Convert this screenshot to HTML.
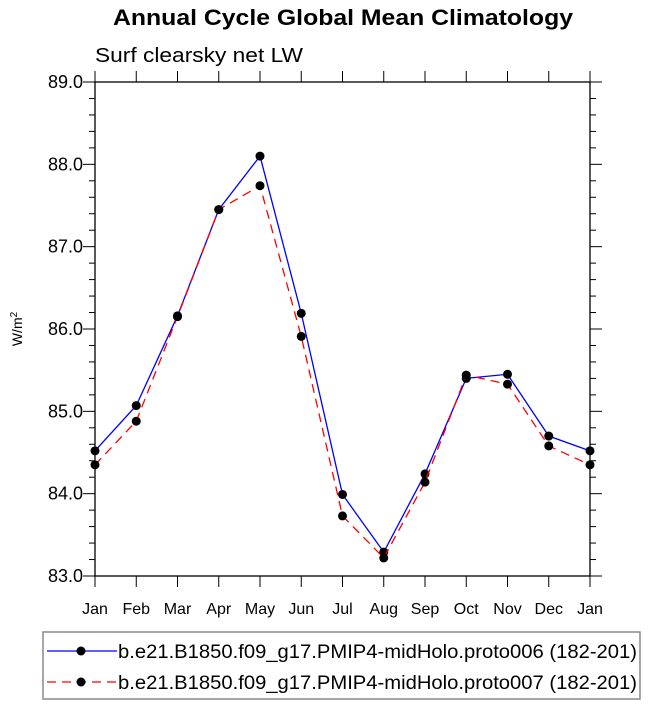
<!DOCTYPE html>
<html><head><meta charset="utf-8"><style>
body{margin:0;background:#fff;font-family:"Liberation Sans",sans-serif;}
svg text{font-family:"Liberation Sans",sans-serif;}
</style></head><body>
<svg id="chart" width="649" height="705" viewBox="0 0 649 705">
<text x="113" y="25" font-size="22" font-weight="bold" textLength="460" lengthAdjust="spacingAndGlyphs">Annual Cycle Global Mean Climatology</text>
<text x="95" y="62" font-size="20" textLength="208" lengthAdjust="spacingAndGlyphs">Surf clearsky net LW</text>
<text transform="translate(22,329) rotate(-90)" text-anchor="middle" font-size="14">W/m<tspan dy="-5" font-size="10">2</tspan></text>
<g id="axes"></g>
<g id="series"></g>
<g>
<rect x="43" y="632" width="597" height="67" fill="#fff" stroke="#888" stroke-width="1.5"/>
<g>
<line x1="47" y1="651" x2="117" y2="651" stroke="#0000ff" stroke-width="1.3"/>
<circle cx="81" cy="651" r="4.5" fill="#000"/>
<text x="118" y="658" font-size="19" textLength="519" lengthAdjust="spacingAndGlyphs">b.e21.B1850.f09_g17.PMIP4-midHolo.proto006 (182-201)</text>
</g>
<g>
<line x1="47" y1="682" x2="117" y2="682" stroke="#ff0000" stroke-width="1.3" stroke-dasharray="9,6"/>
<circle cx="81" cy="682" r="4.5" fill="#000"/>
<text x="118" y="689" font-size="19" textLength="519" lengthAdjust="spacingAndGlyphs">b.e21.B1850.f09_g17.PMIP4-midHolo.proto007 (182-201)</text>
</g>
</g>
</svg>
<script>
const months=["Jan","Feb","Mar","Apr","May","Jun","Jul","Aug","Sep","Oct","Nov","Dec","Jan"];
const proto006=[84.52,85.07,86.16,87.45,88.10,86.19,83.99,83.29,84.24,85.40,85.45,84.70,84.52];
const proto007=[84.35,84.88,86.15,87.45,87.74,85.91,83.73,83.22,84.14,85.44,85.33,84.58,84.35];
const yTicks=[83.0,84.0,85.0,86.0,87.0,88.0,89.0];
const X0=95,X1=590,Y0=576,Y1=82,YMIN=83,YMAX=89;
const ns="http://www.w3.org/2000/svg";
function xs(i){return X0+(X1-X0)*i/(months.length-1);}
function ys(v){return Y0-(v-YMIN)/(YMAX-YMIN)*(Y0-Y1);}
function mk(tag,at,parent){const e=document.createElementNS(ns,tag);for(const k in at)e.setAttribute(k,at[k]);parent.appendChild(e);return e;}
const ax=document.getElementById('axes');
const fr=mk('rect',{x:X0,y:Y1,width:X1-X0,height:Y0-Y1,fill:'none',stroke:'#000','stroke-width':1.3},ax);


months.forEach((m,i)=>{const x=xs(i);
mk('line',{x1:x,y1:Y0,x2:x,y2:Y0+11,stroke:'#000','stroke-width':1},ax);
mk('line',{x1:x,y1:Y1,x2:x,y2:Y1-11,stroke:'#000','stroke-width':1},ax);
const t=mk('text',{x:x,y:Y0+38,'text-anchor':'middle','font-size':16},ax);t.textContent=m;

});
for(let v=YMIN;v<=YMAX+1e-6;v+=0.2){const y=ys(v);const major=Math.abs(v-Math.round(v))<1e-6;const L=major?12:6;
mk('line',{x1:X0,y1:y,x2:X0-L,y2:y,stroke:'#000','stroke-width':1},ax);
mk('line',{x1:X1,y1:y,x2:X1+L,y2:y,stroke:'#000','stroke-width':1},ax);}
yTicks.forEach(v=>{const t=mk('text',{x:X0-12,y:ys(v)+6,'text-anchor':'end','font-size':18},ax);t.textContent=v.toFixed(1);

});
const sg=document.getElementById('series');
function draw(data,color,dash,name){const g=mk('g',{},sg);


const pts=data.map((v,i)=>xs(i)+','+ys(v)).join(' ');
const at={points:pts,fill:'none',stroke:color,'stroke-width':1.3};if(dash)at['stroke-dasharray']=dash;
mk('polyline',at,g);
data.forEach((v,i)=>{const c=mk('circle',{cx:xs(i),cy:ys(v),r:4.5,fill:'#000'},g);

});}
draw(proto006,'#0000ff',null,'series-proto006');
draw(proto007,'#ff0000','9,6','series-proto007');
</script>
</body></html>
